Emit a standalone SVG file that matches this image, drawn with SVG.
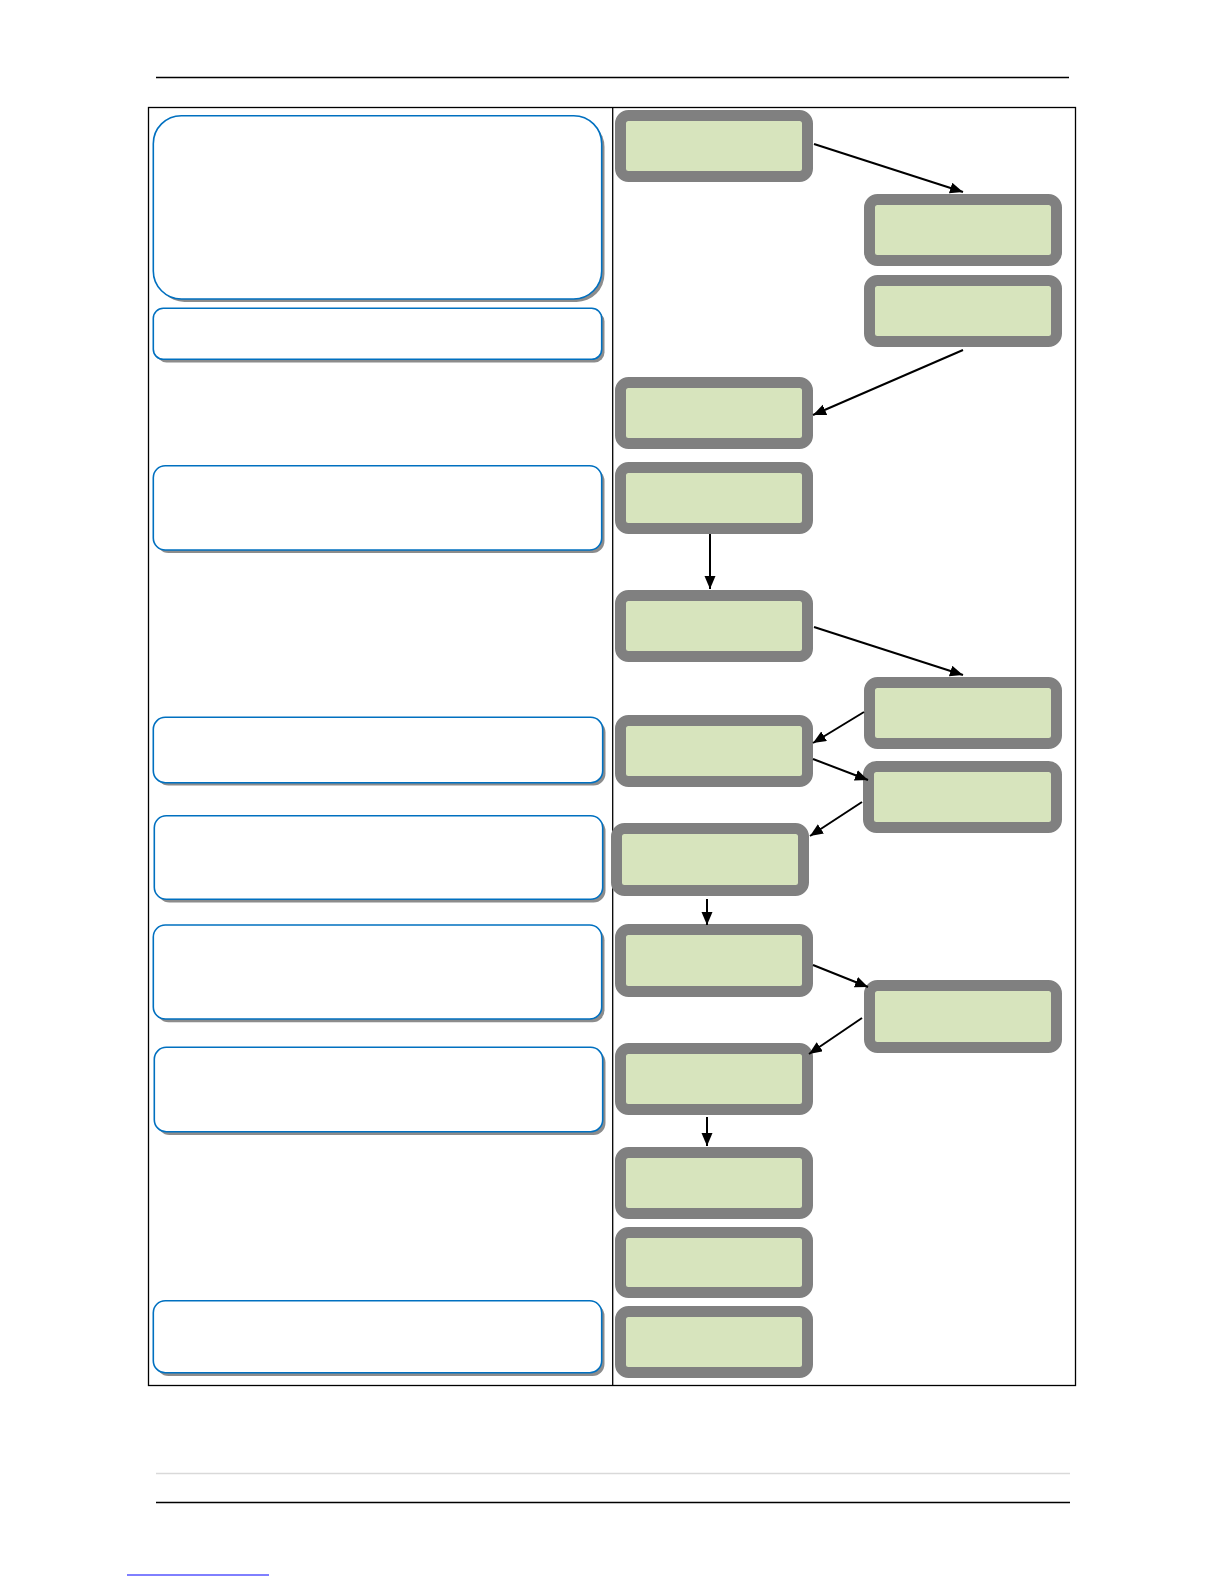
<svg xmlns="http://www.w3.org/2000/svg" width="1225" height="1585" viewBox="0 0 1225 1585">
<style>
.note{fill:#ffffff;stroke:#0070c0;stroke-width:1.6}
.shadow{fill:#8c8c8c}
.step{fill:#d7e4bd;stroke:#808080;stroke-width:11}
.conn{stroke:#000;stroke-width:2;fill:none;marker-end:url(#arr)}
.rule{stroke:#000;stroke-width:1.3}
</style>
<defs>
<marker id="arr" markerUnits="userSpaceOnUse" markerWidth="14" markerHeight="12" refX="13" refY="5.5" orient="auto">
<path d="M0,0 L13,5.5 L0,11 z" fill="#000"/>
</marker>
</defs>
<rect width="1225" height="1585" fill="#fff"/>
<g id="page">
<line x1="156" y1="77.5" x2="1069" y2="77.5" class="rule"/>
<rect x="148.5" y="107.5" width="927" height="1278" fill="none" stroke="#000" stroke-width="1.3"/>
<line x1="612.7" y1="107.5" x2="612.7" y2="1385.5" stroke="#000" stroke-width="1.3"/>
<line x1="156" y1="1473.5" x2="1070" y2="1473.5" stroke="#d9d9d9" stroke-width="1.3"/>
<line x1="156" y1="1502.5" x2="1070" y2="1502.5" class="rule"/>
<line x1="127" y1="1575" x2="269" y2="1575" stroke="#0000ff" stroke-width="1"/>
</g>
<g id="note1"><rect class="shadow" x="156.5" y="119" width="448" height="183" rx="28"/><rect class="note" x="153.3" y="115.7" width="448.4" height="183.3" rx="28"/></g>
<g id="note2"><rect class="shadow" x="156.5" y="311.5" width="448" height="51" rx="10"/><rect class="note" x="153.3" y="308.3" width="448.4" height="51" rx="10"/></g>
<g id="note3"><rect class="shadow" x="156.5" y="469" width="448" height="84" rx="12"/><rect class="note" x="153.3" y="465.7" width="448.4" height="84.3" rx="12"/></g>
<g id="note4"><rect class="shadow" x="156.5" y="720.5" width="449" height="65" rx="12"/><rect class="note" x="153.3" y="717.3" width="449.4" height="65.4" rx="12"/></g>
<g id="note5"><rect class="shadow" x="157.5" y="819" width="448" height="83.5" rx="12"/><rect class="note" x="154.3" y="815.7" width="448.4" height="83.6" rx="12"/></g>
<g id="note6"><rect class="shadow" x="156.5" y="928.2" width="448" height="94" rx="12"/><rect class="note" x="153.3" y="925" width="448.4" height="94" rx="12"/></g>
<g id="note7"><rect class="shadow" x="157.5" y="1050.5" width="448" height="84.4" rx="12"/><rect class="note" x="154.3" y="1047.3" width="448.4" height="84.4" rx="12"/></g>
<g id="note8"><rect class="shadow" x="156.5" y="1304" width="448" height="72" rx="12"/><rect class="note" x="153.3" y="1300.7" width="448.4" height="72" rx="12"/></g>
<g id="step1"><rect class="step" x="620.5" y="115.5" width="187" height="61" rx="8"/></g>
<g id="step2"><rect class="step" x="869.5" y="199.5" width="187" height="61" rx="8"/></g>
<g id="step3"><rect class="step" x="869.5" y="280.5" width="187" height="61" rx="8"/></g>
<g id="step4"><rect class="step" x="620.5" y="382.5" width="187" height="61" rx="8"/></g>
<g id="step5"><rect class="step" x="620.5" y="467.5" width="187" height="61" rx="8"/></g>
<g id="step6"><rect class="step" x="620.5" y="595.5" width="187" height="61" rx="8"/></g>
<g id="step7"><rect class="step" x="869.5" y="682.5" width="187" height="61" rx="8"/></g>
<g id="step8"><rect class="step" x="620.5" y="720.5" width="187" height="61" rx="8"/></g>
<g id="step9"><rect class="step" x="868.5" y="766.5" width="188" height="61" rx="8"/></g>
<g id="step10"><rect class="step" x="616.5" y="828.5" width="187" height="62" rx="8"/></g>
<g id="step11"><rect class="step" x="620.5" y="929.5" width="187" height="62" rx="8"/></g>
<g id="step12"><rect class="step" x="869.5" y="985.5" width="187" height="62" rx="8"/></g>
<g id="step13"><rect class="step" x="620.5" y="1048.5" width="187" height="61" rx="8"/></g>
<g id="step14"><rect class="step" x="620.5" y="1152.5" width="187" height="61" rx="8"/></g>
<g id="step15"><rect class="step" x="620.5" y="1232.5" width="187" height="60" rx="8"/></g>
<g id="step16"><rect class="step" x="620.5" y="1311.5" width="187" height="61" rx="8"/></g>
<g id="connectors">
<line class="conn" x1="814" y1="144" x2="963" y2="192"/>
<line class="conn" x1="963" y1="350" x2="813" y2="415"/>
<line class="conn" x1="710" y1="534" x2="710" y2="589"/>
<line class="conn" x1="814" y1="627" x2="963" y2="675"/>
<line class="conn" x1="864" y1="712" x2="813" y2="743"/>
<line class="conn" x1="813" y1="759" x2="868" y2="780"/>
<line class="conn" x1="862" y1="802" x2="810" y2="836"/>
<line class="conn" x1="707" y1="899" x2="707" y2="925"/>
<line class="conn" x1="813" y1="965" x2="868" y2="987"/>
<line class="conn" x1="862" y1="1018" x2="809" y2="1054"/>
<line class="conn" x1="707" y1="1117" x2="707" y2="1146"/>
</g>
</svg>
